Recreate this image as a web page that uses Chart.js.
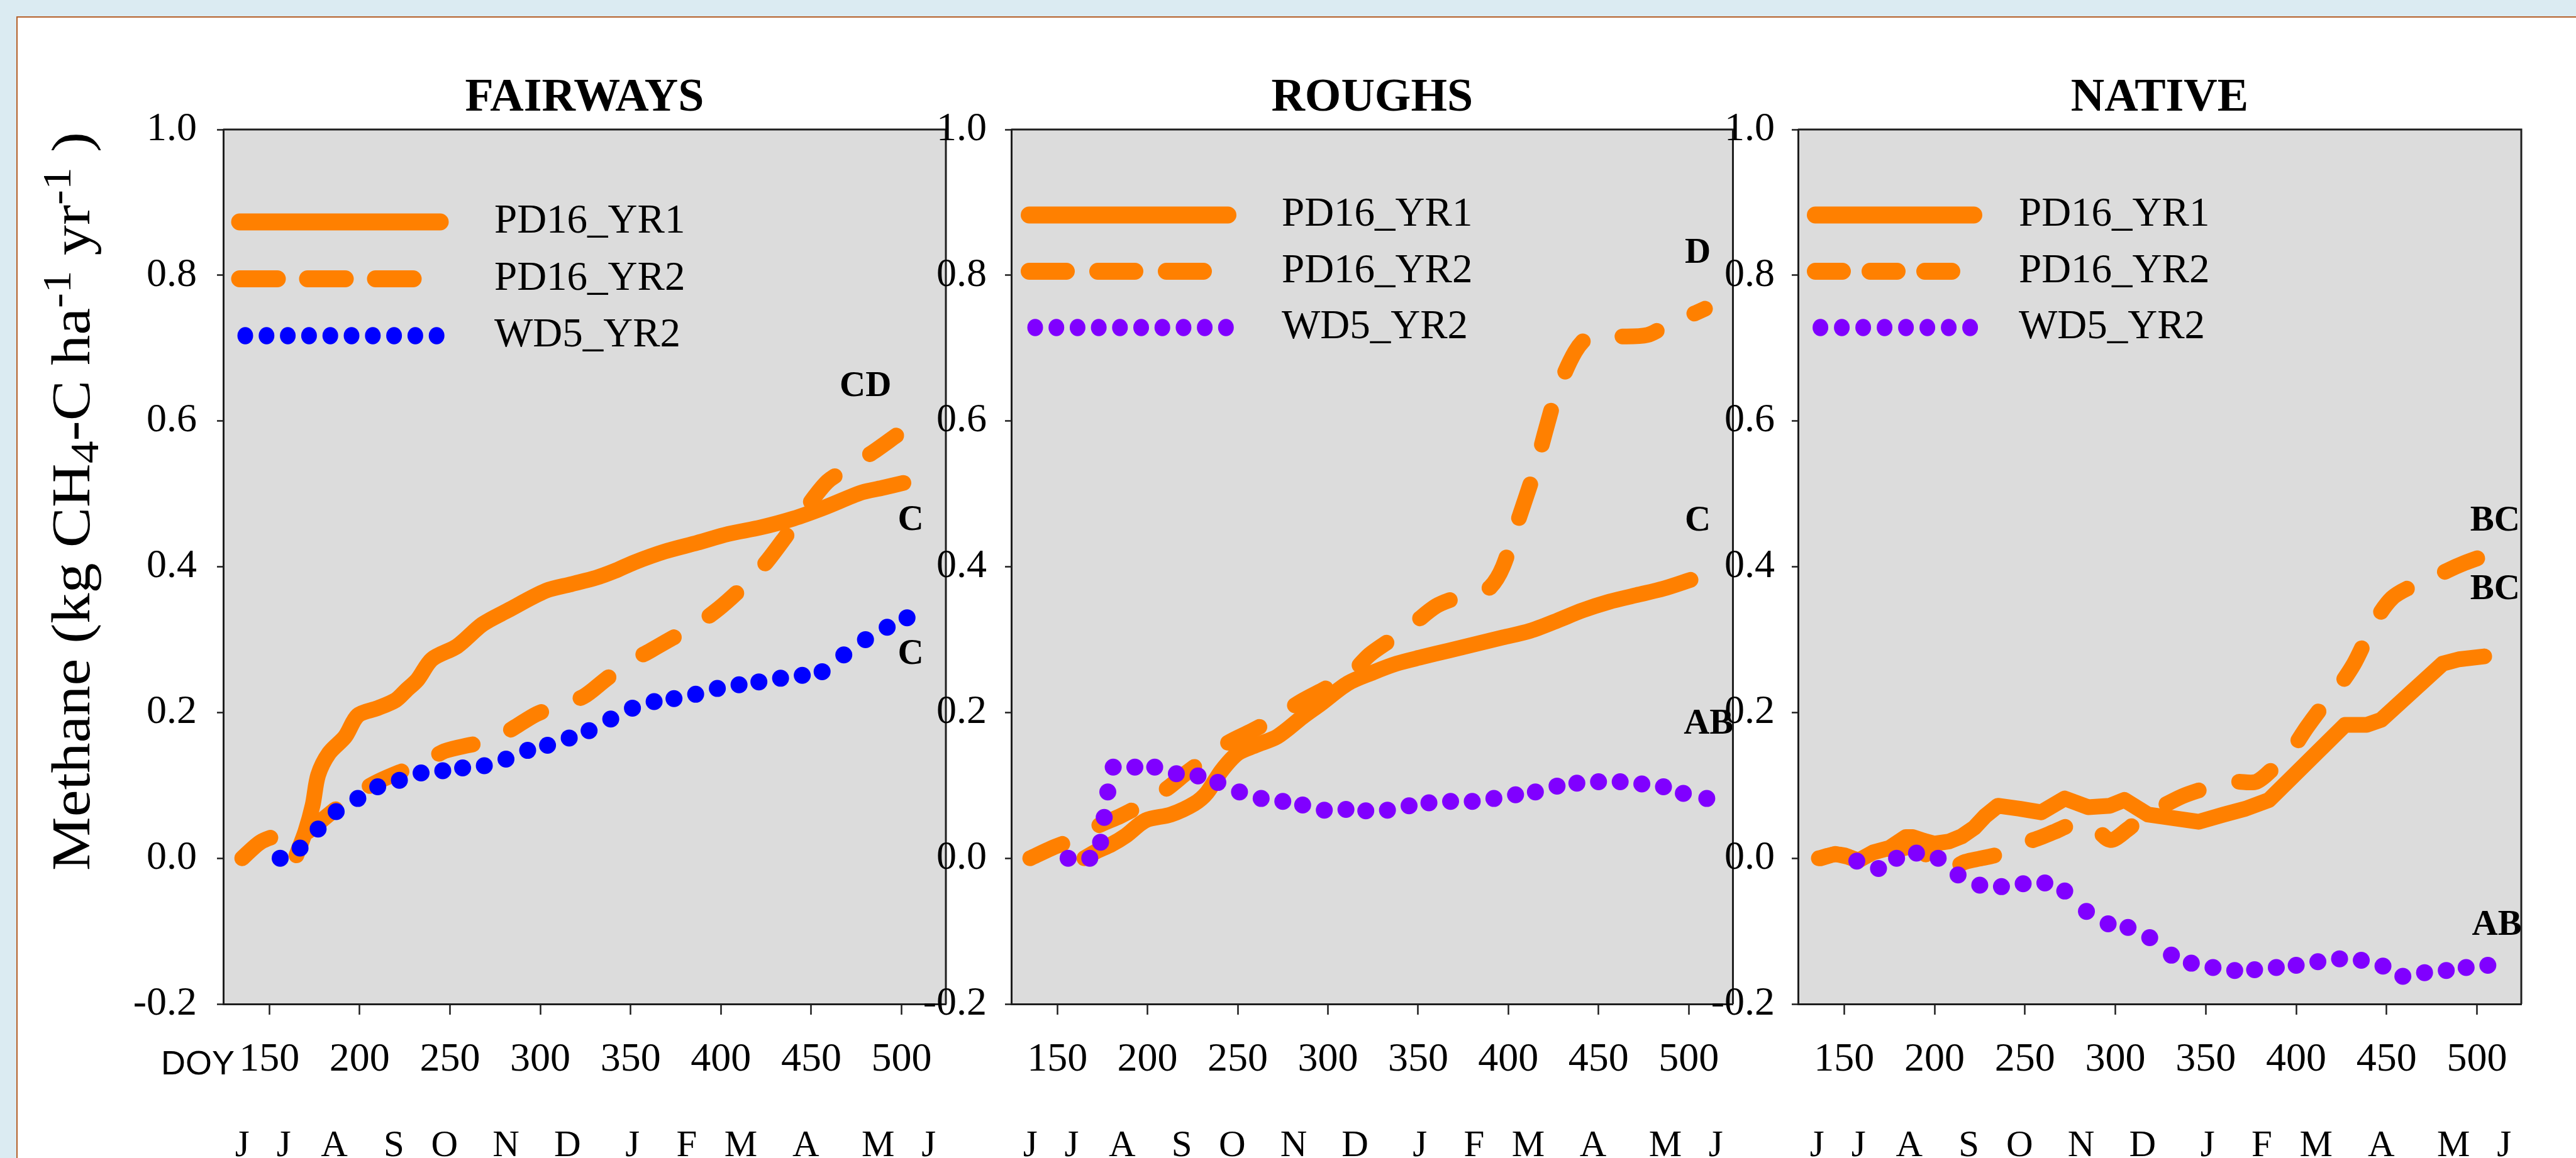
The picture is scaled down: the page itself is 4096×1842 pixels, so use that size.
<!DOCTYPE html>
<html>
<head>
<meta charset="utf-8">
<script src="https://cdn.jsdelivr.net/npm/chart.js@4.4.1/dist/chart.umd.min.js"></script>
<style>
  html, body { margin: 0; padding: 0; }
  body { width: 4096px; height: 1842px; background: #dbebf2; position: relative; overflow: hidden; }
  #frame { position: absolute; left: 26px; top: 26px; width: 4070px; height: 1816px; background: #fff;
           border-top: 2px solid #b4602a; border-left: 2px solid #b4602a; box-sizing: border-box; }
  canvas { position: absolute; top: 0; }
</style>
</head>
<body>
<div id="frame"></div>
<canvas id="fairways" width="1560" height="1842" style="left:0px"></canvas>
<canvas id="roughs" width="1370" height="1842" style="left:1440px"></canvas>
<canvas id="native" width="1406" height="1842" style="left:2690px"></canvas>
<script>
// axes
const doyTicks = [150, 200, 250, 300, 350, 400, 450, 500];
const yTicks = [-0.2, 0.0, 0.2, 0.4, 0.6, 0.8, 1.0];
const monthDoy = [135, 158, 186, 219, 247, 281, 315, 351, 381, 411, 447, 487, 515];
const monthLabels = ['J', 'J', 'A', 'S', 'O', 'N', 'D', 'J', 'F', 'M', 'A', 'M', 'J'];
const seriesNames = ['PD16_YR1', 'PD16_YR2', 'WD5_YR2'];
const panelTitles = ['FAIRWAYS', 'ROUGHS', 'NATIVE'];

// FAIRWAYS
const fwYr1Doy = [165, 170, 174, 177, 183, 192, 199, 210, 220, 226, 232, 240, 254, 268, 282, 303, 317, 331, 341, 352, 369, 387, 404, 422, 440, 457, 478, 489, 501];
const fwYr1 = [0.004, 0.037, 0.073, 0.114, 0.144, 0.167, 0.196, 0.206, 0.217, 0.231, 0.245, 0.273, 0.291, 0.321, 0.340, 0.367, 0.376, 0.385, 0.394, 0.406, 0.421, 0.433, 0.445, 0.454, 0.466, 0.481, 0.502, 0.508, 0.515];
const fwYr2Doy = [135, 145, 155, 161, 166, 171, 177, 187, 197, 210, 222, 234, 247, 260, 274, 286, 298, 310, 324, 336, 348, 361, 373, 385, 399, 412, 424, 436, 447, 459, 471, 484, 497];
const fwYr2 = [0.000, 0.022, 0.032, 0.037, 0.030, 0.036, 0.048, 0.068, 0.087, 0.105, 0.118, 0.129, 0.147, 0.155, 0.162, 0.180, 0.198, 0.209, 0.222, 0.245, 0.267, 0.285, 0.302, 0.318, 0.343, 0.372, 0.403, 0.442, 0.480, 0.517, 0.536, 0.557, 0.580];
const fwWd5Doy = [156, 167, 177, 187, 199, 210, 222, 234, 246, 257, 269, 281, 293, 304, 316, 327, 339, 351, 363, 374, 386, 398, 410, 421, 433, 445, 456, 468, 480, 492, 503];
const fwWd5 = [0.000, 0.014, 0.040, 0.064, 0.082, 0.098, 0.107, 0.117, 0.120, 0.124, 0.127, 0.136, 0.148, 0.155, 0.165, 0.175, 0.191, 0.206, 0.215, 0.219, 0.225, 0.233, 0.238, 0.242, 0.247, 0.251, 0.256, 0.279, 0.300, 0.317, 0.330];
const fwLetters = ['CD', 'C', 'C'];
const fwLetterDoy = [480, 505, 505];
const fwLetterVal = [0.647, 0.463, 0.279];

// ROUGHS
const rgYr1Doy = [165, 172, 180, 188, 199, 213, 226, 233, 241, 250, 260, 272, 286, 296, 311, 325, 338, 352, 367, 382, 397, 412, 427, 441, 456, 471, 486, 501];
const rgYr1 = [0.000, 0.010, 0.019, 0.031, 0.052, 0.060, 0.075, 0.090, 0.120, 0.144, 0.155, 0.167, 0.194, 0.212, 0.240, 0.255, 0.267, 0.276, 0.285, 0.294, 0.303, 0.312, 0.326, 0.340, 0.352, 0.361, 0.370, 0.382];
const rgYr2Doy = [135, 147, 160, 173, 185, 198, 211, 222, 233, 245, 258, 272, 285, 298, 311, 323, 335, 347, 360, 372, 384, 390, 397, 405, 415, 421, 427, 437, 445, 460, 477, 489, 499, 509];
const rgYr2 = [0.000, 0.014, 0.027, 0.045, 0.058, 0.075, 0.096, 0.118, 0.138, 0.159, 0.175, 0.194, 0.215, 0.232, 0.249, 0.279, 0.300, 0.321, 0.346, 0.358, 0.367, 0.372, 0.400, 0.460, 0.535, 0.590, 0.640, 0.695, 0.716, 0.716, 0.718, 0.733, 0.743, 0.754];
const rgWd5Doy = [156, 168, 174, 176, 178, 181, 193, 204, 216, 228, 239, 251, 263, 275, 286, 298, 310, 321, 333, 345, 356, 368, 380, 392, 404, 415, 427, 438, 450, 462, 474, 486, 497, 510];
const rgWd5 = [0.000, 0.000, 0.022, 0.056, 0.091, 0.125, 0.125, 0.125, 0.116, 0.113, 0.104, 0.091, 0.082, 0.078, 0.073, 0.066, 0.067, 0.065, 0.066, 0.072, 0.076, 0.078, 0.078, 0.082, 0.087, 0.091, 0.099, 0.103, 0.105, 0.105, 0.102, 0.098, 0.089, 0.082];
const rgLetters = ['D', 'C', 'AB'];
const rgLetterDoy = [505, 505, 511];
const rgLetterVal = [0.830, 0.462, 0.184];

// NATIVE
const ntYr1Doy = [137, 145, 152, 158, 166, 175, 184, 188, 194, 200, 208, 215, 222, 228, 235, 247, 259, 272, 285, 297, 305, 318, 332, 346, 360, 372, 385, 427, 439, 447, 481, 490, 504];
const ntYr1 = [0.000, 0.006, 0.002, -0.003, 0.008, 0.014, 0.029, 0.029, 0.024, 0.020, 0.023, 0.030, 0.042, 0.058, 0.072, 0.068, 0.063, 0.082, 0.070, 0.072, 0.080, 0.060, 0.055, 0.050, 0.060, 0.068, 0.080, 0.183, 0.183, 0.190, 0.267, 0.273, 0.277];
const ntYr2Doy = [136, 144, 150, 157, 165, 172, 180, 187, 194, 200, 208, 217, 226, 236, 246, 257, 266, 276, 287, 297, 307, 314, 325, 337, 346, 356, 366, 378, 388, 397, 406, 415, 424, 432, 438, 444, 453, 463, 474, 483, 493, 504];
const ntYr2 = [0.000, 0.005, 0.004, -0.002, 0.000, 0.006, 0.012, 0.015, 0.008, -0.010, -0.015, -0.005, 0.000, 0.006, 0.018, 0.027, 0.036, 0.046, 0.045, 0.025, 0.040, 0.055, 0.070, 0.085, 0.093, 0.100, 0.105, 0.105, 0.125, 0.147, 0.180, 0.210, 0.237, 0.267, 0.297, 0.327, 0.357, 0.372, 0.382, 0.394, 0.405, 0.415];
const ntWd5Doy = [157, 169, 179, 190, 202, 213, 225, 237, 249, 261, 272, 284, 296, 307, 319, 331, 342, 354, 366, 377, 389, 400, 412, 424, 436, 448, 459, 471, 483, 494, 506];
const ntWd5 = [-0.004, -0.014, 0.000, 0.007, 0.000, -0.023, -0.037, -0.039, -0.035, -0.034, -0.045, -0.073, -0.090, -0.095, -0.109, -0.133, -0.144, -0.150, -0.154, -0.153, -0.150, -0.147, -0.142, -0.138, -0.140, -0.148, -0.162, -0.157, -0.154, -0.150, -0.147];
const ntLetters = ['BC', 'BC', 'AB'];
const ntLetterDoy = [510, 510, 511];
const ntLetterVal = [0.462, 0.368, -0.092];

const ORANGE = '#ff8000';
const INK = '#1e1e1e';
const SERIF = '"Liberation Serif", "Times New Roman", serif';

function pts(xs, ys) {
  return xs.map((x, i) => ({x: x, y: ys[i]}));
}

// grey plot area plus the top and right frame lines
const plotFrame = {
  id: 'plotFrame',
  beforeDraw(chart) {
    const {ctx, chartArea: a} = chart;
    ctx.save();
    ctx.fillStyle = '#dcdcdc';
    ctx.fillRect(a.left, a.top, a.right - a.left, a.bottom - a.top);
    ctx.restore();
  },
  afterDraw(chart) {
    const {ctx, chartArea: a} = chart;
    ctx.save();
    ctx.strokeStyle = INK;
    ctx.lineWidth = 3;
    ctx.beginPath();
    ctx.moveTo(a.left, a.top);
    ctx.lineTo(a.right, a.top);
    ctx.lineTo(a.right, a.bottom);
    ctx.stroke();
    ctx.restore();
  }
};

// legend drawn inside the plot, top left
const insideLegend = {
  id: 'insideLegend',
  afterDatasetsDraw(chart, args, o) {
    const {ctx, chartArea: a} = chart;
    ctx.save();
    chart.data.datasets.forEach((ds, i) => {
      const y = a.top + o.rowTop + i * o.rowGap;
      const x0 = a.left + o.left;
      if (ds.showLine === false) {
        ctx.fillStyle = ds.pointBackgroundColor;
        for (let k = 0; k < o.dotCount; k++) {
          ctx.beginPath();
          ctx.ellipse(x0 + o.dotStart + k * o.dotGap, y, o.dotRadius, o.dotRadius * 1.1, 0, 0, Math.PI * 2);
          ctx.fill();
        }
      } else {
        const half = o.lineWidth / 2;
        let len = o.sampleLen - o.lineWidth;
        ctx.setLineDash([]);
        if (ds.borderDash) {
          ctx.setLineDash(o.dash);
          len = o.dash[0] * 3 + o.dash[1] * 2;
        }
        ctx.strokeStyle = ds.borderColor;
        ctx.lineWidth = o.lineWidth;
        ctx.lineCap = 'round';
        ctx.beginPath();
        ctx.moveTo(x0 + half, y);
        ctx.lineTo(x0 + half + len, y);
        ctx.stroke();
        ctx.setLineDash([]);
      }
      ctx.fillStyle = '#000';
      ctx.font = o.fontSize + 'px ' + SERIF;
      ctx.textAlign = 'left';
      ctx.textBaseline = 'middle';
      ctx.fillText(ds.label, a.left + o.textLeft, y);
    });
    ctx.restore();
  }
};

// significance letters at the line ends
const letterMarks = {
  id: 'letterMarks',
  afterDatasetsDraw(chart, args, o) {
    const ctx = chart.ctx;
    const xs = chart.scales.x, ys = chart.scales.y;
    ctx.save();
    ctx.fillStyle = '#000';
    ctx.font = 'bold 57px ' + SERIF;
    ctx.textAlign = 'center';
    ctx.textBaseline = 'middle';
    o.labels.forEach((t, i) => {
      ctx.fillText(t, xs.getPixelForValue(o.doy[i]), ys.getPixelForValue(o.val[i]));
    });
    ctx.restore();
  }
};

// rotated y title with sub/superscripts, and the DOY tag (first panel only)
const sideText = {
  id: 'sideText',
  afterDraw(chart, args, o) {
    if (!o.show) return;
    const {ctx, chartArea: a} = chart;
    const runs = [['Methane (kg CH', 0], ['4', -1], ['-C ha', 0], ['-1', 1], [' yr', 0], ['-1', 1], [' )', 0]];
    const big = 86, small = 64;
    ctx.save();
    let total = 0;
    runs.forEach(r => {
      ctx.font = (r[1] ? small : big) + 'px ' + SERIF;
      total += ctx.measureText(r[0]).width;
    });
    ctx.translate(a.left + o.titleDx, a.bottom + o.titleDy);
    ctx.rotate(-Math.PI / 2);
    ctx.scale(o.titleLen / total, 1);
    ctx.fillStyle = '#000';
    ctx.textBaseline = 'alphabetic';
    ctx.textAlign = 'left';
    let x = 0;
    runs.forEach(r => {
      ctx.font = (r[1] ? small : big) + 'px ' + SERIF;
      const shift = r[1] > 0 ? -30 : (r[1] < 0 ? 14 : 0);
      ctx.fillText(r[0], x, shift);
      x += ctx.measureText(r[0]).width;
    });
    ctx.restore();

    ctx.save();
    ctx.fillStyle = '#000';
    ctx.font = '54px "Liberation Sans", Arial, sans-serif';
    ctx.textAlign = 'right';
    ctx.textBaseline = 'alphabetic';
    ctx.fillText('DOY', a.left + o.doyDx, a.bottom + o.doyDy);
    ctx.restore();
  }
};

function makePanel(id, p) {
  const datasets = [
    {label: seriesNames[0], data: pts(p.yr1Doy, p.yr1), borderColor: ORANGE, borderWidth: 25,
     borderCapStyle: 'round', borderJoinStyle: 'round', pointRadius: 0, tension: p.tension,
     order: 1, xAxisID: 'x', yAxisID: 'y'},
    {label: seriesNames[1], data: pts(p.yr2Doy, p.yr2), borderColor: ORANGE, borderWidth: 25,
     borderDash: [56, 66], borderCapStyle: 'round', borderJoinStyle: 'round', pointRadius: 0,
     tension: 0.3, order: 2, xAxisID: 'x', yAxisID: 'y'},
    {label: seriesNames[2], data: pts(p.wdDoy, p.wd), showLine: false, borderColor: p.dotColor,
     pointBackgroundColor: p.dotColor, pointBorderWidth: 0, pointRadius: 13.5, order: 0,
     xAxisID: 'x', yAxisID: 'y'}
  ];
  const tickFont = {family: SERIF, size: 64, lineHeight: 1};
  return new Chart(document.getElementById(id), {
    type: 'line',
    data: {datasets: datasets},
    plugins: [plotFrame, insideLegend, letterMarks, sideText],
    options: {
      responsive: false,
      devicePixelRatio: 1,
      animation: false,
      events: [],
      layout: {padding: {left: 0, right: p.padRight, top: 0, bottom: 0}},
      plugins: {
        legend: {display: false},
        tooltip: {enabled: false},
        title: {display: true, text: p.title, color: '#000', fullSize: false,
                font: {family: SERIF, size: 74, weight: 'bold', lineHeight: 1},
                padding: {top: 120, bottom: 12}},
        insideLegend: p.legend,
        letterMarks: {labels: p.letters, doy: p.letterDoy, val: p.letterVal},
        sideText: {show: p.sideText, titleDx: -213, titleDy: -212, titleLen: 1175, doyDx: 18, doyDy: 112}
      },
      scales: {
        x: {
          type: 'linear', position: 'bottom', min: 124.5, max: 524.5, weight: 0,
          afterBuildTicks: s => { s.ticks = doyTicks.map(v => ({value: v})); },
          afterFit: s => { s.height = 120; },
          grid: {display: true, drawOnChartArea: false, drawTicks: true, tickLength: 17, tickWidth: 2.5, tickColor: INK},
          border: {display: true, color: INK, width: 3},
          ticks: {autoSkip: false, maxRotation: 0, padding: 40, color: '#000', font: tickFont,
                  callback: v => String(v)}
        },
        xm: {
          type: 'linear', position: 'bottom', min: 124.5, max: 524.5, weight: 1,
          afterBuildTicks: s => { s.ticks = monthDoy.map(v => ({value: v})); },
          afterFit: s => { s.height = 125; },
          grid: {display: false},
          border: {display: false},
          ticks: {autoSkip: false, maxRotation: 0, padding: 69, color: '#000',
                  font: {family: SERIF, size: 59, lineHeight: 1},
                  callback: (v, i) => monthLabels[i]}
        },
        y: {
          type: 'linear', position: 'left', min: -0.2, max: 1.0,
          afterBuildTicks: s => { s.ticks = yTicks.map(v => ({value: v})); },
          afterFit: s => { s.width = p.axisWidth; },
          grid: {display: true, drawOnChartArea: false, drawTicks: true, tickLength: 10, tickWidth: 2.5, tickColor: INK},
          border: {display: true, color: INK, width: 3},
          ticks: {padding: p.tickPad, color: '#000', font: tickFont, callback: v => v.toFixed(1)}
        }
      }
    }
  });
}

makePanel('fairways', {
  title: panelTitles[0], axisWidth: 355, tickPad: 32, padRight: 56, sideText: true, tension: 0.3,
  yr1Doy: fwYr1Doy, yr1: fwYr1, yr2Doy: fwYr2Doy, yr2: fwYr2, wdDoy: fwWd5Doy, wd: fwWd5, dotColor: '#0000ff',
  letters: fwLetters, letterDoy: fwLetterDoy, letterVal: fwLetterVal,
  legend: {left: 12.5, rowTop: 147, rowGap: 90.5, sampleLen: 346, lineWidth: 27, dash: [60, 48],
           dotStart: 22.5, dotGap: 33.8, dotCount: 10, dotRadius: 12.5, textLeft: 431, fontSize: 65}
});
makePanel('roughs', {
  title: panelTitles[1], axisWidth: 168, tickPad: 29, padRight: 51, sideText: false, tension: 0.3,
  yr1Doy: rgYr1Doy, yr1: rgYr1, yr2Doy: rgYr2Doy, yr2: rgYr2, wdDoy: rgWd5Doy, wd: rgWd5, dotColor: '#8000ff',
  letters: rgLetters, letterDoy: rgLetterDoy, letterVal: rgLetterVal,
  legend: {left: 15, rowTop: 136, rowGap: 89.5, sampleLen: 343, lineWidth: 27, dash: [59, 50],
           dotStart: 23, dotGap: 33.7, dotCount: 10, dotRadius: 12.5, textLeft: 430, fontSize: 65}
});
makePanel('native', {
  title: panelTitles[2], axisWidth: 169, tickPad: 27, padRight: 87, sideText: false, tension: 0,
  yr1Doy: ntYr1Doy, yr1: ntYr1, yr2Doy: ntYr2Doy, yr2: ntYr2, wdDoy: ntWd5Doy, wd: ntWd5, dotColor: '#8000ff',
  letters: ntLetters, letterDoy: ntLetterDoy, letterVal: ntLetterVal,
  legend: {left: 14, rowTop: 136, rowGap: 89.5, sampleLen: 279, lineWidth: 27, dash: [43, 44],
           dotStart: 21.6, dotGap: 34, dotCount: 8, dotRadius: 12.5, textLeft: 351, fontSize: 65}
});
</script>
</body>
</html>
